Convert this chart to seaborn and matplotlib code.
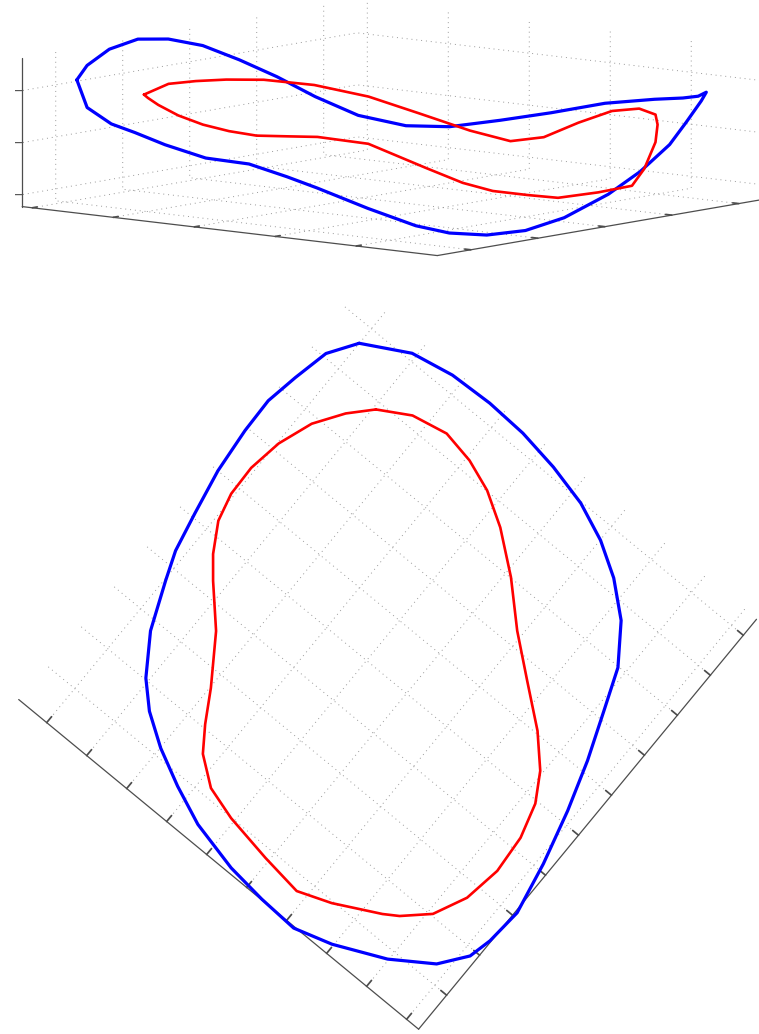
import numpy as np
import matplotlib
matplotlib.use("Agg")
import matplotlib.pyplot as plt
import seaborn as sns
from mpl_toolkits.mplot3d import proj3d

# outer loop (blue), read point by point around the curve
blue_x = [9.48, 9.98, 10.15, 10.19, 10.15, 10.02, 9.82, 9.51, 9.11, 8.57,
          7.83, 7.02, 6.07, 5.08, 3.99, 2.94, 2.19, 1.72, 1.19, 0.66,
          0.20, -0.03, 0.01, 0.10, 0.34, 0.66, 1.02, 1.43, 1.88, 2.64,
          3.57, 4.14, 4.93, 5.85, 6.78, 7.51, 8.19, 8.92]
blue_y = [9.30, 8.39, 7.52, 6.62, 5.76, 4.89, 4.04, 3.29, 2.63, 2.00,
          1.47, 1.15, 0.78, 0.46, 0.17, -0.04, 0.02, 0.13, 0.53, 1.32,
          2.33, 3.10, 3.93, 4.77, 5.80, 6.57, 7.29, 7.91, 8.37, 8.88,
          9.27, 9.49, 9.66, 9.84, 9.93, 9.95, 9.83, 9.67]
blue_z = [2.20, 2.33, 2.53, 2.62, 2.53, 2.32, 1.97, 1.59, 1.17, 0.79,
          0.60, 0.62, 0.79, 0.99, 1.24, 1.39, 1.49, 1.58, 1.75, 1.72,
          1.46, 1.14, 0.71, 0.36, 0.00, -0.19, -0.23, -0.16, -0.01, 0.31,
          0.66, 0.85, 1.04, 1.09, 1.27, 1.44, 1.53, 1.76]

# inner loop (red)
red_x = [8.70, 9.06, 9.21, 9.09, 8.86, 8.47, 7.86, 7.14, 6.52, 5.90,
         5.34, 4.79, 4.10, 3.32, 2.55, 1.89, 1.45, 1.27, 0.81, 0.56,
         0.67, 0.84, 1.04, 1.45, 1.92, 2.53, 3.44, 4.15, 4.55, 5.11,
         5.67, 6.30, 7.00, 7.70, 8.27]
red_y = [8.24, 7.62, 6.89, 6.22, 5.59, 4.94, 4.17, 3.42, 2.66, 1.89,
         1.36, 1.03, 0.83, 0.77, 0.89, 1.20, 1.67, 1.95, 2.84, 3.51,
         4.38, 5.38, 6.05, 6.59, 6.92, 7.28, 7.90, 8.56, 8.89, 9.22,
         9.36, 9.38, 9.27, 9.02, 8.64]
red_z = [1.87, 1.82, 1.88, 1.87, 1.85, 1.81, 1.68, 1.44, 1.09, 0.73,
         0.52, 0.61, 0.93, 1.22, 1.35, 1.33, 1.23, 0.94, 0.57, 0.34,
         0.30, 0.29, 0.40, 0.50, 0.65, 0.92, 1.37, 1.51, 1.52, 1.52,
         1.57, 1.64, 1.74, 1.85, 1.89]

x_lim = (0.0, 10.25)
y_lim = (0.0, 10.0)
z_lim = (-0.23, 2.63)

W, H = 759, 1034
AXIS_GREY = "0.3"

sns.set_theme(style="white")
fig = plt.figure(figsize=(W / 100, H / 100), dpi=100)


def closed(v):
    return list(v) + [v[0]]


def make_panel(elev, azim, xticks, yticks, zticks):
    ax = fig.add_axes([0, 0, 1, 1], projection="3d", proj_type="ortho")
    ax.set_facecolor((1, 1, 1, 0))
    ax.set_xlim(*x_lim)
    ax.set_ylim(*y_lim)
    ax.set_zlim(*z_lim)
    ax.set_box_aspect((x_lim[1] - x_lim[0], y_lim[1] - y_lim[0], z_lim[1] - z_lim[0]))
    ax.view_init(elev=elev, azim=azim)
    ax.set_xticks(xticks)
    ax.set_yticks(yticks)
    ax.set_zticks(zticks)
    ax.set_xticklabels([])
    ax.set_yticklabels([])
    ax.set_zticklabels([])
    for axis in (ax.xaxis, ax.yaxis, ax.zaxis):
        axis.set_pane_color((1, 1, 1, 0))
        axis._axinfo["grid"].update(color="0.6", linewidth=0.7, linestyle=(0, (1, 4)))
        axis._axinfo["tick"].update(inward_factor=0.0, outward_factor=0.18)
        axis._axinfo["axisline"]["color"] = AXIS_GREY
        axis._axinfo["axisline"]["linewidth"] = 0.9
        axis.line.set_color(AXIS_GREY)
        axis.line.set_linewidth(0.9)
    ax.tick_params(colors=AXIS_GREY, width=0.8)
    ax.plot(closed(blue_x), closed(blue_y), closed(blue_z), color="#0000ff", lw=2.3)
    ax.plot(closed(red_x), closed(red_y), closed(red_z), color="#ff0000", lw=1.9)
    return ax


def hide_axis(axis):
    axis.line.set_linewidth(0)
    axis._axinfo["axisline"]["linewidth"] = 0
    axis._axinfo["tick"]["linewidth"] = {True: 0, False: 0}


def to_frac(ax, pt):
    M = ax.get_proj()
    X, Y, _ = proj3d.proj_transform(pt[0], pt[1], pt[2], M)
    disp = ax.transData.transform((X, Y))
    return ax.transAxes.inverted().transform(disp)


def fit(ax, pts, targets):
    # place the square 3-D axes so the box corners land where the reference has them
    d = np.array([(tx, H - ty) for tx, ty in targets], float)
    for _ in range(3):
        fig.canvas.draw()
        a = np.array([to_frac(ax, p) for p in pts])
        am, dm = a.mean(axis=0), d.mean(axis=0)
        side = ((d - dm) * (a - am)).sum() / ((a - am) ** 2).sum()
        org = dm - side * am
        ax.set_position([org[0] / W, org[1] / H, side / W, side / H])


# top: oblique view
z_ticks_top = [0, 1, 2]
top = make_panel(8.2, 129.6, [2, 4, 6, 8, 10], [1, 3, 5, 7, 9], z_ticks_top)
# matplotlib puts the z axis on the right corner; draw it on the left one instead
hide_axis(top.zaxis)
xc, yc = x_lim[1], y_lim[1]
top.plot([xc, xc], [yc, yc], list(z_lim), color=AXIS_GREY, lw=0.9)
for zt in z_ticks_top:
    top.plot([xc, xc + 0.12], [yc, yc + 0.10], [zt, zt], color=AXIS_GREY, lw=0.8)
fit(top,
    [(0, 10, z_lim[0]), (x_lim[1], 10, z_lim[0]), (x_lim[1], 10, z_lim[1])],
    [(438.3, 253.3), (21.7, 206.7), (21.7, 60.0)])

# bottom: view from above
bottom = make_panel(89.9, -140.5, np.arange(0.85, 10.25, 1.0), np.arange(0.3, 10.0, 1.0), [])
hide_axis(bottom.zaxis)
fit(bottom,
    [(0, 0, z_lim[0]), (0, 10, z_lim[0]), (x_lim[1], 0, z_lim[0])],
    [(419.0, 1028.0), (17.8, 699.0), (757.0, 621.0)])

fig.savefig("out.png", dpi=100)
